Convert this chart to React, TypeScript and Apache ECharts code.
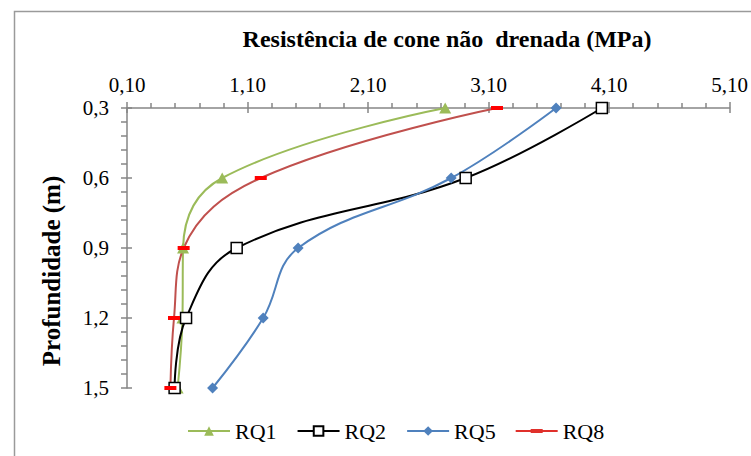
import React, { useEffect, useRef } from "react";
import * as echarts from "echarts";

// Depth (m) and undrained cone resistance (MPa)
const depths = [0.3, 0.6, 0.9, 1.2, 1.5];
const rq1 = [2.74, 0.89, 0.565, 0.56, 0.52];
const rq2 = [4.04, 2.91, 1.01, 0.59, 0.495];
const rq5 = [3.66, 2.79, 1.52, 1.23, 0.81];
const rq8 = [3.17, 1.21, 0.57, 0.49, 0.46];
const seriesNames = ["RQ1", "RQ2", "RQ5", "RQ8"];
const xMin = 0.1;
const xMax = 5.1;
const xStep = 1;
const yMin = 0.3;
const yMax = 1.5;
const yStep = 0.3;

const FONT = "Liberation Serif";
const AXIS_GRAY = "#868686";

const pairs = (vals: number[]) => vals.map((v, i) => [v, depths[i]]);

export default function App() {
  const ref = useRef<HTMLDivElement>(null);
  useEffect(() => {
    if (!ref.current) return;
    const chart = echarts.init(ref.current, undefined, { renderer: "svg" });
    const tickStyle = { color: AXIS_GRAY, width: 1.5 };
    const xFmt = (v: number) => v.toFixed(2).replace(".", ",");
    const yFmt = (v: number) => v.toFixed(1).replace(".", ",");
    const lineBase = {
      type: "line" as const,
      smooth: 0.4,
      showAllSymbol: true,
      z: 3,
    };
    chart.setOption({
      animation: false,
      backgroundColor: "#ffffff",
      grid: { left: 127, right: 18, top: 108, bottom: 68, containLabel: false },
      xAxis: [
        {
          type: "value",
          position: "top",
          min: xMin,
          max: xMax,
          interval: xStep,
          axisLine: { show: true, lineStyle: tickStyle },
          axisTick: { show: true, length: 6, lineStyle: tickStyle },
          minorTick: { show: true, splitNumber: 5, length: 5, lineStyle: tickStyle },
          axisLabel: {
            margin: 13,
            color: "#000",
            fontFamily: FONT,
            fontSize: 21,
            formatter: xFmt,
          },
          splitLine: { show: false },
          minorSplitLine: { show: false },
        },
        {
          type: "value",
          position: "top",
          min: xMin,
          max: xMax,
          interval: xStep,
          axisLine: { show: false },
          axisTick: { show: true, inside: true, length: 5, lineStyle: tickStyle },
          axisLabel: { show: false },
          splitLine: { show: false },
        },
      ],
      yAxis: [
        {
          type: "value",
          inverse: true,
          position: "left",
          min: yMin,
          max: yMax,
          interval: yStep,
          axisLine: { show: true, lineStyle: tickStyle },
          axisTick: { show: true, length: 6, lineStyle: tickStyle },
          minorTick: { show: true, splitNumber: 5, length: 6, lineStyle: tickStyle },
          axisLabel: {
            margin: 18,
            color: "#000",
            fontFamily: FONT,
            fontSize: 21,
            formatter: yFmt,
          },
          splitLine: { show: false },
          minorSplitLine: { show: false },
        },
        {
          type: "value",
          inverse: true,
          position: "left",
          min: yMin,
          max: yMax,
          interval: yStep,
          axisLine: { show: false },
          axisTick: { show: true, inside: true, length: 5, lineStyle: tickStyle },
          axisLabel: { show: false },
          splitLine: { show: false },
        },
      ],
      legend: {
        left: 182,
        top: 415,
        itemWidth: 42,
        itemHeight: 12,
        itemGap: 20,
        textStyle: { fontFamily: FONT, fontSize: 22, color: "#000" },
        data: [
          seriesNames[0],
          seriesNames[1],
          seriesNames[2],
          {
            name: seriesNames[3],
            icon:
              "path://M0,0 M0,12 M0,5 L42,5 L42,7 L0,7 Z M15,4 L27,4 L27,8 L15,8 Z",
            itemStyle: { color: "#E0302B" },
          },
        ],
      },
      graphic: [
        {
          type: "rect",
          shape: { x: 14.5, y: 11.5, width: 800, height: 500 },
          style: { fill: "none", stroke: "#9a9a9a", lineWidth: 1.5 },
          silent: true,
          z: -1,
        },
        {
          type: "text",
          x: 447,
          y: 39,
          style: {
            text: "Resistência de cone não  drenada (MPa)",
            font: `bold 24px ${FONT}`,
            fill: "#000",
            textAlign: "center",
            textVerticalAlign: "middle",
          },
        },
        {
          type: "text",
          x: 51,
          y: 271,
          rotation: Math.PI / 2,
          style: {
            text: "Profundidade (m)",
            font: `bold 25px ${FONT}`,
            fill: "#000",
            textAlign: "center",
            textVerticalAlign: "middle",
          },
        },
      ],
      series: [
        {
          ...lineBase,
          name: seriesNames[0],
          data: pairs(rq1),
          symbol: "triangle",
          symbolSize: [12, 11],
          itemStyle: { color: "#9BBB59" },
          lineStyle: { color: "#9BBB59", width: 2 },
        },
        {
          ...lineBase,
          name: seriesNames[1],
          data: pairs(rq2),
          symbol: "rect",
          symbolSize: 11,
          itemStyle: { color: "#ffffff", borderColor: "#000000", borderWidth: 1.5 },
          lineStyle: { color: "#000000", width: 2 },
        },
        {
          ...lineBase,
          name: seriesNames[2],
          data: pairs(rq5),
          symbol: "diamond",
          symbolSize: 11,
          itemStyle: { color: "#4F81BD" },
          lineStyle: { color: "#4F81BD", width: 2 },
        },
        {
          ...lineBase,
          name: seriesNames[3],
          data: pairs(rq8),
          symbol: "rect",
          symbolSize: [12, 4],
          itemStyle: { color: "#FF0000" },
          lineStyle: { color: "#C0504D", width: 2 },
        },
      ],
    });
    return () => chart.dispose();
  }, []);
  return (
    <div
      ref={ref}
      style={{ position: "fixed", left: 0, top: 0, width: 751, height: 456 }}
    />
  );
}
